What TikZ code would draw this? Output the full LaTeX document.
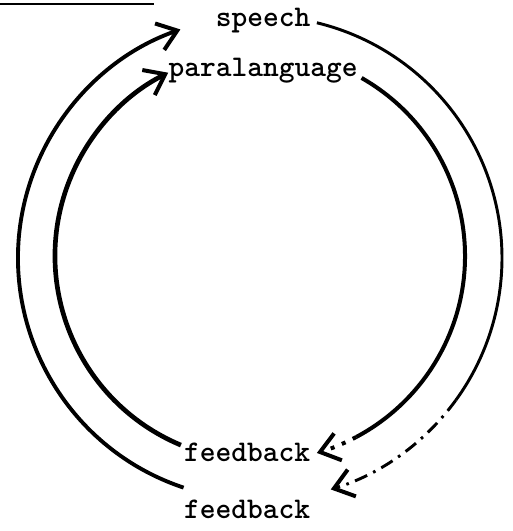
\documentclass[tikz,border=0pt]{standalone}
\usetikzlibrary{arrows.meta}
\begin{document}
\begin{tikzpicture}[x=0.75pt,y=0.75pt,
  lbl/.style={font=\fontsize{22.5}{24}\selectfont\ttfamily\bfseries, inner sep=0pt},
  tip/.style={-{Straight Barb[length=14pt,width=21pt,line width=3pt]}},
  arcol/.style={line width=2.9pt},
  arcil/.style={line width=3.5pt},
  arcor/.style={line width=2.2pt},
  arcir/.style={line width=3pt},
  brokenouter/.style={dash pattern=on 10pt off 5pt on 2pt off 5pt},
  brokeninner/.style={dash pattern=on 3pt off 6pt}]
\useasboundingbox (0,0) rectangle (512,531);
% centres of the two circles
\coordinate (Oo) at (260,273);
\coordinate (Oi) at (260,275);
% labels
\node[lbl] (speech) at (263,510) {speech};
\node[lbl] (para) at (263,460) {paralanguage};
\node[lbl] (fbi) at (247,79) {feedback};
\node[lbl] (fbo) at (247,22) {feedback};
% top rule
\coordinate (ruleA) at (0,527);
\coordinate (ruleB) at (154,527);
\draw[line width=2pt] (ruleA) -- (ruleB);
% arc end points
\coordinate (olA) at ([shift={(251.6:242)}]Oo);
\coordinate (orA) at ([shift={(76.4:242)}]Oo);
\coordinate (orB) at ([shift={(-36:242)}]Oo);
\coordinate (ilA) at ([shift={(247.3:205)}]Oi);
\coordinate (irA) at ([shift={(60.3:205)}]Oi);
\coordinate (irB) at ([shift={(-62:205)}]Oi);
% outer left: feedback -> speech
\draw[arcol,tip] (olA) arc[start angle=251.6, end angle=109.2, radius=242];
% inner left: feedback -> paralanguage
\draw[arcil,tip] (ilA) arc[start angle=247.3, end angle=116.6, radius=205];
% outer right: speech -> feedback
\draw[arcor] (orA) arc[start angle=76.4, end angle=-36, radius=242];
\draw[arcor,brokenouter,tip] (orB) arc[start angle=-36, end angle=-73, radius=242];
% inner right: paralanguage -> feedback
\draw[arcir] (irA) arc[start angle=60.3, end angle=-62, radius=205];
\draw[arcir,brokeninner,tip] (irB) arc[start angle=-62, end angle=-73.9, radius=205];
\end{tikzpicture}
\end{document}
